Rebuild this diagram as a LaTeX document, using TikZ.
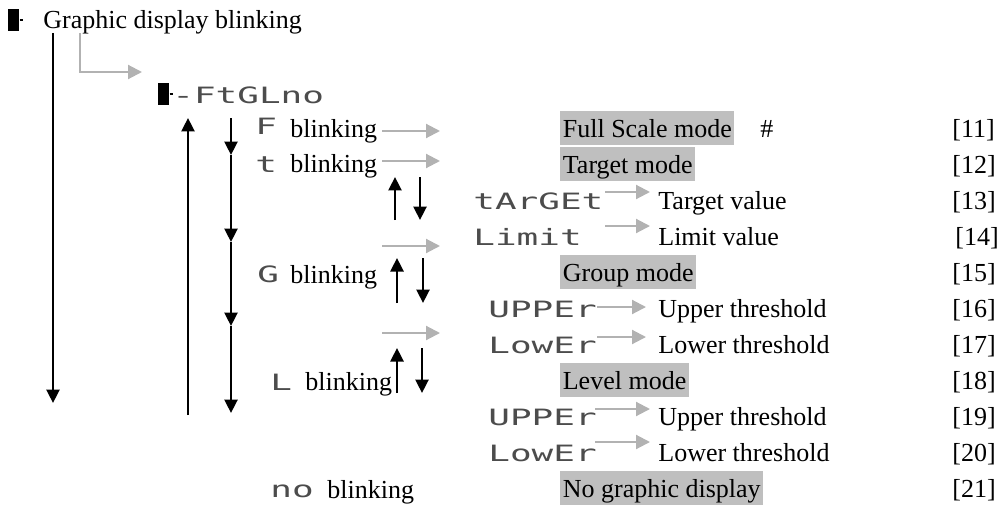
\documentclass[tikz,border=0pt]{standalone}
\usepackage{fontspec}
\setmainfont{Liberation Serif}
\newfontfamily\segfont[FakeStretch=1.6]{DejaVu Sans Mono}
\usepackage{tikz}
\usetikzlibrary{arrows.meta, positioning}

\begin{document}
\begin{tikzpicture}[
    x=0.02cm, y=-0.02cm,
    txt/.style={anchor=base west, inner sep=0pt, font=\fontsize{14.8}{17}\selectfont},
    seg/.style={anchor=base west, inner sep=0pt, text=black!70, font=\segfont\fontsize{12.8}{15}\selectfont},
    modebox/.style={txt, fill=black!25, inner xsep=0.05cm, text height=0.52cm, text depth=0.16cm},
    cursor/.style={fill=black, inner sep=0pt, anchor=north west, minimum width=0.22cm, minimum height=0.43cm},
    blkarrow/.style={-{Triangle[length=0.27cm, width=0.26cm]}, line width=1.5pt},
    greyarrow/.style={-{Triangle[length=0.28cm, width=0.28cm]}, line width=1.2pt, draw=black!30}
]
\useasboundingbox (0,0) rectangle (1006,510);

% heading
\node[cursor] (cur1) at (8,9) {};
\draw[line width=1.5pt] (cur1.east) -- ++(3,0);
\node[txt] (title) at (43,29) {Graphic display blinking};
\node[cursor] (cur2) at (158,83) {};
\draw[line width=1.5pt] (cur2.east) -- ++(3,0);
\node[seg] (menu) at (172,103) {-FtGLno};

% blinking choices
\node[seg] (fseg) at (255,134) {F};
\node[txt] (fblink) at (290,137) {blinking};
\node[seg] (tseg) at (255,172) {t};
\node[txt] (tblink) at (290,172) {blinking};
\node[seg] (gseg) at (257,282) {G};
\node[txt] (gblink) at (290,283) {blinking};
\node[seg] (lseg) at (270,390) {L};
\node[txt] (lblink) at (305,390) {blinking};
\node[seg] (noseg) at (270,497) {no};
\node[txt] (noblink) at (327,498) {blinking};

% modes and values
\node[modebox] (fullmode) at (560,137) {Full Scale mode};
\node[txt] (hash) at (760,137) {\#};
\node[modebox] (tgtmode) at (560,173) {Target mode};
\node[seg] (tgtseg) at (473,209) {tArGEt};
\node[txt] (tgtval) at (658,209) {Target value};
\node[seg] (limseg) at (473,245) {Limit};
\node[txt] (limval) at (658,245) {Limit value};
\node[modebox] (grpmode) at (560,281) {Group mode};
\node[seg] (gupseg) at (488,317) {UPPEr};
\node[txt] (gupval) at (658,317) {Upper threshold};
\node[seg] (glowseg) at (488,353) {LowEr};
\node[txt] (glowval) at (658,353) {Lower threshold};
\node[modebox] (lvlmode) at (560,389) {Level mode};
\node[seg] (lupseg) at (488,425) {UPPEr};
\node[txt] (lupval) at (658,425) {Upper threshold};
\node[seg] (llowseg) at (488,461) {LowEr};
\node[txt] (llowval) at (658,461) {Lower threshold};
\node[modebox] (nomode) at (560,497) {No graphic display};

% reference numbers
\foreach \n [count=\i from 0] in {11,...,21}
    \node[txt] (ref\n) at ({952+(\n==14)*3},{137+36*\i}) {[\n]};

% black arrows
\coordinate (m0) at (53,33);
\coordinate (m1) at (53,403);
\draw[blkarrow] (m0) -- (m1);
\coordinate (u0) at (188,415);
\coordinate (u1) at (188,118);
\draw[blkarrow] (u0) -- (u1);
\coordinate (c0) at (231,118);
\coordinate (c1) at (231,155);
\coordinate (c2) at (231,242);
\coordinate (c3) at (231,326);
\coordinate (c4) at (231,413);
\foreach \a/\b in {c0/c1, c1/c2, c2/c3, c3/c4}
    \draw[blkarrow] (\a) -- (\b);
\foreach \xa/\xb/\ya/\yb [count=\i] in {395/420/177/220, 397/423/258/303, 397/422/348/393} {
    \coordinate (pt\i) at (\xa,\ya);
    \coordinate (pb\i) at (\xa,\yb);
    \coordinate (qt\i) at (\xb,\ya);
    \coordinate (qb\i) at (\xb,\yb);
    \draw[blkarrow] (pb\i) -- (pt\i);
    \draw[blkarrow] (qt\i) -- (qb\i);
}

% grey arrows
\coordinate (e0) at (80,33);
\coordinate (e1) at (142,72);
\draw[greyarrow] (e0) |- (e1);
\foreach \y [count=\i] in {131,161,246,333} {
    \coordinate (ga\i) at (382,\y);
    \coordinate (gb\i) at (440,\y);
    \draw[greyarrow] (ga\i) -- (gb\i);
}
\foreach \xa/\xb/\y [count=\i] in {605/650/192, 605/650/226, 597/646/307, 597/646/337, 595/650/409, 595/650/442} {
    \coordinate (va\i) at (\xa,\y);
    \coordinate (vb\i) at (\xb,\y);
    \draw[greyarrow] (va\i) -- (vb\i);
}
\end{tikzpicture}
\end{document}
